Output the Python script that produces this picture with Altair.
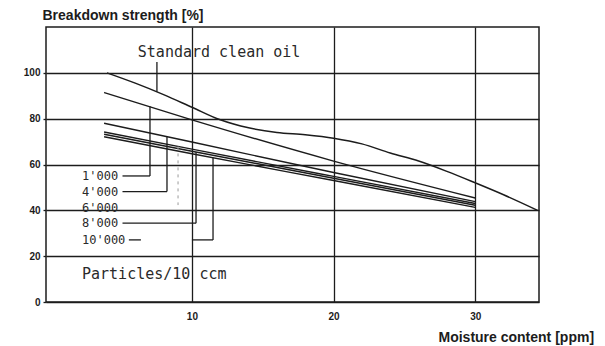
import altair as alt
import pandas as pd

# ---- curves: moisture content [ppm] vs breakdown strength [%]
std_x = [4, 6, 8, 10, 12, 14, 16, 18, 20, 22, 24, 26, 28, 30, 32, 34.4]
std_y = [100, 95.5, 90.5, 85, 79.5, 76, 74, 73, 71.5, 69, 65, 61.5, 57, 52, 46.8, 40]

p_x = [3.8, 10, 20, 30]
p1000_y = [91.4, 79.5, 61.5, 45.4]
p4000_y = [78.0, 69.8, 56.5, 43.8]
p6000_y = [74.2, 66.7, 54.8, 43.0]
p8000_y = [73.2, 65.8, 54.0, 42.2]
p10000_y = [72.1, 64.7, 53.0, 41.3]

series_names = ["1'000", "4'000", "6'000", "8'000", "10'000"]
series_vals = [p1000_y, p4000_y, p6000_y, p8000_y, p10000_y]

# ---- big labels (data coordinates)
big_text = ["Standard clean oil", "Particles/10 ccm"]
big_x = [6.18, 2.24]
big_y = [109.1, 12.2]

# ---- particle-count labels (data coordinates)
small_text = series_names
small_x = [2.24, 2.24, 2.24, 2.24, 2.24]
small_y = [55.0, 48.2, 41.2, 34.4, 27.1]

# ---- leader lines (data coordinates)
lead_x = [7.53, 5.1, 7.04, 5.1, 8.24, 5.1, 10.29, 5.55, 10.0, 11.49]
lead_x2 = [7.53, 7.04, 7.04, 8.24, 8.24, 10.29, 10.29, 6.4, 11.49, 11.49]
lead_y = [104.7, 55.0, 55.0, 48.2, 48.2, 34.4, 34.4, 27.1, 27.1, 27.1]
lead_y2 = [91.8, 55.0, 85.4, 48.2, 72.1, 34.4, 65.4, 27.1, 27.1, 63.0]

faint_x = [9.02]
faint_y = [67.9]
faint_y2 = [42.3]

x_ticks = [10, 20, 30]
y_ticks = [0, 20, 40, 60, 80, 100]

std_df = pd.DataFrame({"x": std_x, "y": std_y})
rows = []
for name, vals in zip(series_names, series_vals):
    for xv, yv in zip(p_x, vals):
        rows.append({"x": xv, "y": yv, "series": name})
part_df = pd.DataFrame(rows)
big_df = pd.DataFrame({"x": big_x, "y": big_y, "t": big_text})
small_df = pd.DataFrame({"x": small_x, "y": small_y, "t": small_text})
lead_df = pd.DataFrame({"x": lead_x, "x2": lead_x2, "y": lead_y, "y2": lead_y2})
faint_df = pd.DataFrame({"x": faint_x, "y": faint_y, "y2": faint_y2})

xs = alt.Scale(domain=[-0.3, 34.5], nice=False, zero=False)
ys = alt.Scale(domain=[0, 120], nice=False)

ink = "#1c1c1c"

x_axis = alt.Axis(
    values=x_ticks, grid=True, gridColor=ink, gridWidth=1.3, gridOpacity=1,
    domain=False, ticks=False, labelFont="Liberation Sans", labelFontWeight="bold",
    labelFontSize=10, labelColor=ink, labelPadding=9,
    title="Moisture content [ppm]", titleFont="Liberation Sans", titleFontWeight="bold",
    titleFontSize=14, titleColor=ink, titleAlign="left", titleBaseline="middle",
    titleX=392, titleY=35,
)
y_axis = alt.Axis(
    values=y_ticks, grid=True, gridColor=ink, gridWidth=1.3, gridOpacity=1,
    domain=False, ticks=True, tickSize=3, tickColor=ink, tickWidth=1.3,
    labelFont="Liberation Sans", labelFontWeight="bold", labelFontSize=10,
    labelColor=ink, labelPadding=3,
    title="Breakdown strength [%]", titleFont="Liberation Sans", titleFontWeight="bold",
    titleFontSize=14, titleColor=ink, titleAngle=0, titleAlign="left",
    titleBaseline="middle", titleX=-4, titleY=-12,
)

std_line = alt.Chart(std_df).mark_line(color=ink, strokeWidth=1.5, interpolate="monotone").encode(
    x=alt.X("x:Q", scale=xs, axis=x_axis),
    y=alt.Y("y:Q", scale=ys, axis=y_axis),
)
part_lines = alt.Chart(part_df).mark_line(color=ink, strokeWidth=1.4, interpolate="monotone").encode(
    x=alt.X("x:Q", scale=xs),
    y=alt.Y("y:Q", scale=ys),
    detail="series:N",
)
leaders = alt.Chart(lead_df).mark_rule(color=ink, strokeWidth=1.3).encode(
    x=alt.X("x:Q", scale=xs), x2="x2:Q",
    y=alt.Y("y:Q", scale=ys), y2="y2:Q",
)
faint = alt.Chart(faint_df).mark_rule(color="#9a9a9a", strokeWidth=1, strokeDash=[3, 4]).encode(
    x=alt.X("x:Q", scale=xs),
    y=alt.Y("y:Q", scale=ys), y2="y2:Q",
)
big_labels = alt.Chart(big_df).mark_text(
    align="left", baseline="middle", font="DejaVu Sans Mono", fontSize=15, color="#2a2a2a"
).encode(
    x=alt.X("x:Q", scale=xs),
    y=alt.Y("y:Q", scale=ys),
    text="t:N",
)
small_labels = alt.Chart(small_df).mark_text(
    align="left", baseline="middle", font="DejaVu Sans Mono", fontSize=12, color="#2a2a2a"
).encode(
    x=alt.X("x:Q", scale=xs),
    y=alt.Y("y:Q", scale=ys),
    text="t:N",
)

chart = alt.layer(std_line, part_lines, leaders, faint, big_labels, small_labels).properties(
    width=493, height=275,
    autosize=alt.AutoSizeParams(type="none"),
    padding={"left": 38, "top": 19, "right": 58, "bottom": 44},
    background="white",
).configure_view(stroke=ink, strokeWidth=1.5)

chart.save("out.html", embed_options={"renderer": "svg", "actions": False})
